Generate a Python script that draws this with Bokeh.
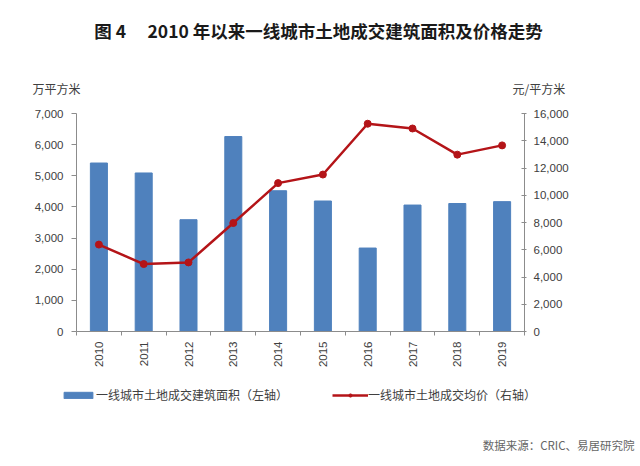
import math
from bokeh.plotting import figure
from bokeh.models import (Range1d, LinearAxis, FixedTicker, NumeralTickFormatter,
                          Legend, LegendItem, ColumnDataSource)
from bokeh.core.properties import value
from bokeh.embed import file_html
from bokeh.resources import INLINE

# ---- data ----
years = ["2010", "2011", "2012", "2013", "2014", "2015", "2016", "2017", "2018", "2019"]
area = [5410, 5090, 3590, 6260, 4520, 4190, 2680, 4060, 4110, 4170]          # 万平方米 (left axis)
price = [6380, 4950, 5070, 7960, 10890, 11520, 15250, 14900, 12980, 13660]  # 元/平方米 (right axis)
left_ticks = [0, 1000, 2000, 3000, 4000, 5000, 6000, 7000]
right_ticks = [0, 2000, 4000, 6000, 8000, 10000, 12000, 14000, 16000]

title_text = "图 4\u3000 2010 年以来一线城市土地成交建筑面积及价格走势"
left_unit = "万平方米"
right_unit = "元/平方米"
bar_name = "一线城市土地成交建筑面积（左轴）"
line_name = "一线城市土地成交均价（右轴）"
source_text = "数据来源：CRIC、易居研究院"

CJK = "Noto Sans CJK SC"
NUM = "Liberation Sans"
BLUE = "#4F81BD"
RED = "#B41418"
AXIS = "#8C8C8C"
TXT = "#404040"

W = 624
TOP_H, MID_H, BOT_H = 100, 270, 88


def blank(h, w=W):
    f = figure(width=w, height=h, output_backend="svg", toolbar_location=None,
               x_range=Range1d(0, w), y_range=Range1d(0, h),
               x_axis_type=None, y_axis_type=None,
               min_border=0, min_border_left=0, min_border_right=0,
               min_border_top=0, min_border_bottom=0)
    f.outline_line_color = None
    f.background_fill_color = "white"
    f.border_fill_color = "white"
    f.grid.visible = False
    return f


# ---- header: title and unit texts ----
top = blank(TOP_H)
top.text(x=[318], y=[TOP_H - 30], text=[title_text], text_align="center",
         text_baseline="middle", text_font=value(CJK), text_font_size="17.5px",
         text_font_style="bold", text_color="#1a1a1a")
top.text(x=[32], y=[TOP_H - 88], text=[left_unit], text_align="left",
         text_baseline="middle", text_font=value(CJK), text_font_size="12px",
         text_color=TXT)
top.text(x=[512], y=[TOP_H - 88], text=[right_unit], text_align="left",
         text_baseline="middle", text_font=value(CJK), text_font_size="12px",
         text_color=TXT)

# ---- main chart ----
xs = [i + 0.5 for i in range(len(years))]
src = ColumnDataSource(dict(x=xs, year=years, area=area, price=price))

p = figure(width=W, height=MID_H, output_backend="svg", toolbar_location=None,
           x_range=Range1d(0, len(years)), y_range=Range1d(left_ticks[0], left_ticks[-1]),
           x_axis_type=None, y_axis_type=None,
           min_border_left=76, min_border_right=100, min_border_top=13, min_border_bottom=38)
p.extra_y_ranges = {"price": Range1d(right_ticks[0], right_ticks[-1])}
p.outline_line_color = None
p.background_fill_color = "white"
p.border_fill_color = "white"

xaxis = LinearAxis(
    ticker=FixedTicker(ticks=xs, minor_ticks=list(range(len(years) + 1))),
    major_label_overrides={x: y for x, y in zip(xs, years)},
    major_label_orientation=math.pi / 2,
    axis_line_color=AXIS, major_tick_line_color=None, major_tick_out=0, major_tick_in=0,
    minor_tick_line_color=AXIS, minor_tick_out=4, minor_tick_in=0,
    major_label_standoff=6,
    major_label_text_font=NUM, major_label_text_font_size="11.5px",
    major_label_text_color=TXT)
p.add_layout(xaxis, "below")

yaxis = LinearAxis(
    ticker=FixedTicker(ticks=left_ticks),
    formatter=NumeralTickFormatter(format="0,0"),
    axis_line_color=AXIS, major_tick_line_color=AXIS, major_tick_out=5, major_tick_in=0,
    minor_tick_line_color=None, major_label_standoff=8,
    major_label_text_font=NUM, major_label_text_font_size="11.5px",
    major_label_text_color=TXT)
p.add_layout(yaxis, "left")

yaxis2 = LinearAxis(
    y_range_name="price",
    ticker=FixedTicker(ticks=right_ticks),
    formatter=NumeralTickFormatter(format="0,0"),
    axis_line_color=AXIS, major_tick_line_color=AXIS, major_tick_out=2, major_tick_in=3,
    minor_tick_line_color=None, major_label_standoff=7,
    major_label_text_font=NUM, major_label_text_font_size="11.5px",
    major_label_text_color=TXT)
p.add_layout(yaxis2, "right")

p.vbar(x="x", top="area", width=0.38, source=src, fill_color=BLUE, line_color=BLUE)
p.line(x="x", y="price", source=src, y_range_name="price", line_color=RED, line_width=2.5)
p.scatter(x="x", y="price", source=src, y_range_name="price", size=7,
          fill_color=RED, line_color=RED)

# ---- footer: legend and source ----
# legend-only renderers use the same data, on ranges that keep them out of view
bot = blank(BOT_H, 640)
bot.extra_x_ranges = {"off": Range1d(-20, -10)}
bot.extra_y_ranges = {"off": Range1d(-20, -10)}
lb = bot.vbar(x="x", top="area", width=0.38, source=src,
              x_range_name="off", y_range_name="off",
              fill_color=BLUE, line_color=BLUE)
ll = bot.line(x="x", y="price", source=src, x_range_name="off", y_range_name="off",
              line_color=RED, line_width=2.5)
lp = bot.scatter(x="x", y="price", source=src, x_range_name="off", y_range_name="off",
                 size=7, fill_color=RED, line_color=RED)
legend = Legend(items=[LegendItem(label=bar_name, renderers=[lb]),
                       LegendItem(label=line_name, renderers=[ll, lp])],
                orientation="horizontal", location=(60, BOT_H - 33),
                glyph_width=36, glyph_height=8, label_height=14, label_standoff=0,
                spacing=44, padding=0, margin=0,
                border_line_color=None, background_fill_alpha=0,
                label_text_font=CJK, label_text_font_size="12px", label_text_color=TXT)
bot.add_layout(legend)
bot.text(x=[634], y=[BOT_H - 74], text=[source_text], text_align="right",
         text_baseline="middle", text_font=value(CJK), text_font_size="11.5px",
         text_color="#666666")

open("out.html", "w").write(file_html([top, p, bot], INLINE))
